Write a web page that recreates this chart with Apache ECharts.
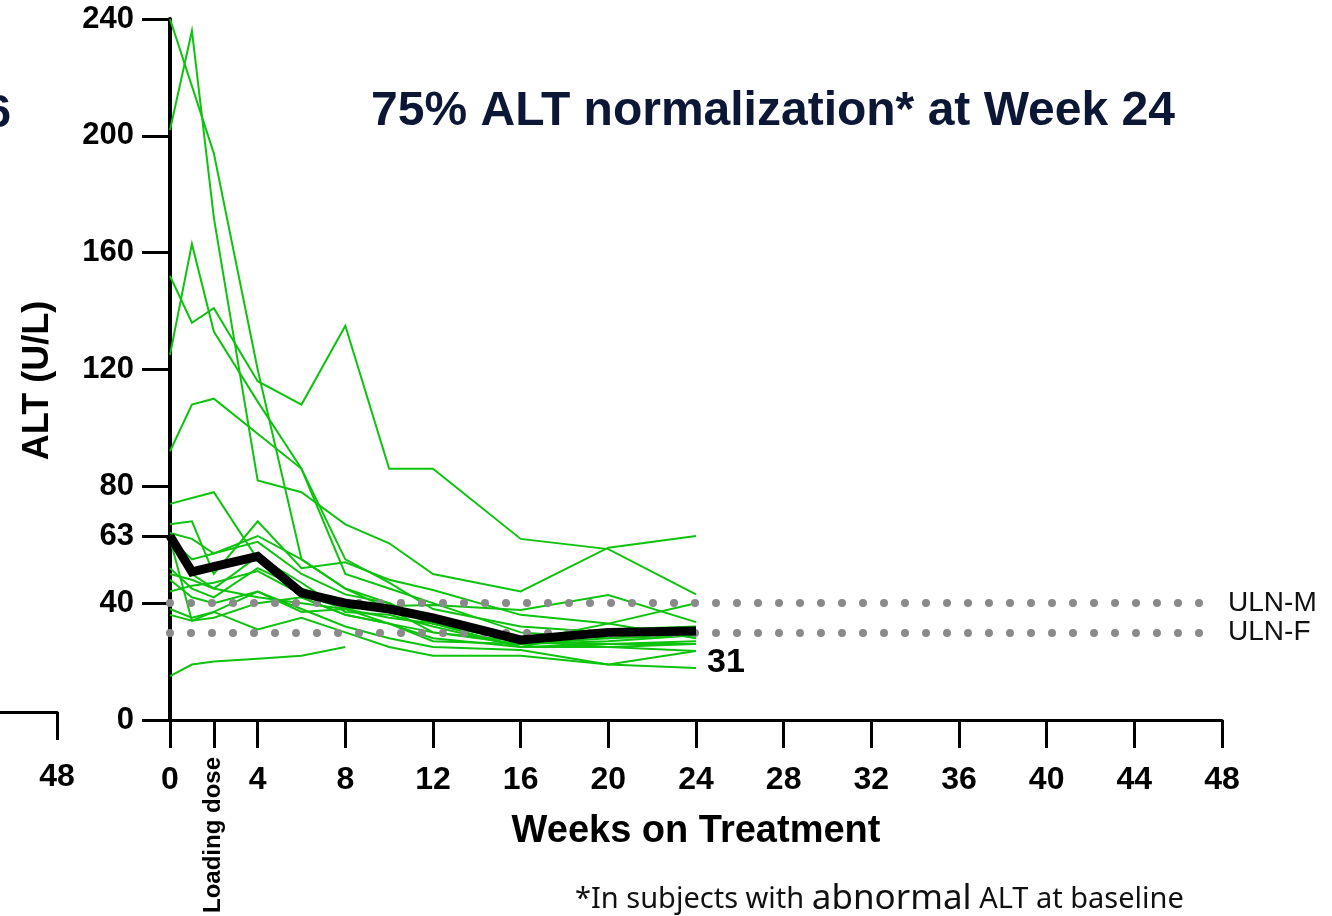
<!DOCTYPE html>
<html><head><meta charset="utf-8">
<script src="https://cdn.jsdelivr.net/npm/echarts@6/dist/echarts.min.js"></script>
<style>html,body{margin:0;padding:0;background:#fff}#c{width:1332px;height:916px}</style>
</head><body><div id="c"></div>
<script>
// ---------- data ----------
const weeks = [0, 1, 2, 4, 6, 8, 10, 12, 16, 20, 24];
const xTickValues = [0, 2, 4, 8, 12, 16, 20, 24, 28, 32, 36, 40, 44, 48];
const xLabelValues = [0, 4, 8, 12, 16, 20, 24, 28, 32, 36, 40, 44, 48];
const loadingDoseWeek = [2];
const loadingDoseLabel = 'Loading dose';
const yTickValues = [0, 40, 63, 80, 120, 160, 200, 240];
const meanALT = [63, 50.7, 52.5, 56, 43.5, 40, 38, 35, 27.4, 30, 30.5];
const subj01 = [240, 217, 194, 120, 55, 45, 40, 33, 27, 26, 26];
const subj02 = [202, 236, 172, 82, 78, 67, 60.5, 50, 44, 59, 63];
const subj03 = [152, 136, 141, 116, 108, 135, 86, 86, 62, 58.5, 43];
const subj04 = [125, 163, 133, 109, 86, 50, 45, 40, 30, 28, 29];
const subj05 = [92, 108, 110, 98, 86, 55, 47, 38, 32, 30, 31];
const subj06 = [74, 76, 78, 55, 42, 36, 33, 30, 27, 25, 23.6];
const subj07 = [67, 68, 50, 68, 52, 54, 48, 44.5, 36, 33, 28];
const subj08 = [64, 62, 57, 61, 50, 43, 40, 33, 27, 33, 40];
const subj09 = [62, 55, 57, 63, 55, 45, 38, 33, 25, 26, 27];
const subj10 = [52, 45, 42, 52, 45, 40, 38, 30, 26, 27, 29];
const subj11 = [50, 48, 45, 56, 47, 37, 36, 32, 25, 31, 32];
const subj12 = [44, 46, 47, 51, 43, 38, 33, 28, 25, 25, 26];
const subj13 = [48, 42, 40, 44, 37, 38, 39, 39.4, 37.7, 42.8, 33.5];
const subj14 = [38, 35, 37, 31, 35, 30, 25, 22, 22, 19, 23.6];
const subj15 = [36, 34, 37, 44, 38, 32, 28, 25, 24, 19, 17.8];
const subj16 = [63, 50, 45, 42, 40, 38, 35, 33, 28, 30, 30.5];
const subj17 = [62, 34, 35, 40, 42, 36, 33, 27, 26, 28, 31];
const subj18 = [15, 19, 20, 21, 22, 25, null, null, null, null, null];
const subjects = [subj01, subj02, subj03, subj04, subj05, subj06, subj07, subj08, subj09,
                  subj10, subj11, subj12, subj13, subj14, subj15, subj16, subj17, subj18];
const ulnValues = [40, 30];
const ulnLabels = ['ULN-M', 'ULN-F'];
const titleText = '75% ALT normalization* at Week 24';
const yName = 'ALT (U/L)';
const xName = 'Weeks on Treatment';
const leftPanelTitleTail = '6';
const leftPanelTick = [48];

// ---------- chart ----------
const GREEN = '#0dc30d';
const NAVY = '#0c1736';
const FONT = 'Liberation Sans';
const chart = echarts.init(document.getElementById('c'), null, {renderer: 'canvas'});

const pairs = arr => weeks.map((w, i) => [w, arr[i]]);

const series = subjects.map(s => ({
  type: 'line', xAxisIndex: 0, yAxisIndex: 0, data: pairs(s),
  symbol: 'none', silent: true, z: 3,
  lineStyle: {color: GREEN, width: 2, join: 'miter'}
}));

series.unshift({
  type: 'line', xAxisIndex: 0, yAxisIndex: 0, data: [], symbol: 'none', silent: true, z: 2,
  markLine: {
    silent: true, symbol: 'none', animation: false,
    lineStyle: {color: '#8a8a8a', width: 8, type: [0, 21], cap: 'round'},
    label: {show: true, position: 'end', distance: 17, color: '#111', fontFamily: FONT, fontSize: 28},
    data: ulnValues.map((v, i) => [
      {coord: [0, v], label: {formatter: ulnLabels[i]}},
      {coord: [47.5, v]}
    ])
  }
});

series.push({
  type: 'line', xAxisIndex: 0, yAxisIndex: 0, data: pairs(meanALT),
  symbol: 'none', silent: true, z: 5,
  lineStyle: {color: '#000', width: 9, join: 'miter'},
  endLabel: {show: true, formatter: p => String(Math.round(p.value[1])),
    color: '#000', fontFamily: FONT, fontWeight: 'bold', fontSize: 34, offset: [3, 32]}
});

series.push({type: 'line', xAxisIndex: 2, yAxisIndex: 1, data: [], silent: true});

chart.setOption({
  animation: false,
  backgroundColor: '#fff',
  title: [
    {text: titleText, left: 768, top: 83, textAlign: 'center',
     textStyle: {color: NAVY, fontFamily: FONT, fontWeight: 'bold', fontSize: 48}},
    {text: leftPanelTitleTail, left: -20, top: 86,
     textStyle: {color: NAVY, fontFamily: FONT, fontWeight: 'bold', fontSize: 47}},
    {text: '{s|*In subjects with }{b|abnormal}{s| ALT at baseline}', left: 570, top: 877,
     textStyle: {fontWeight: 'normal', rich: {
       s: {fontFamily: 'Noto Sans', fontWeight: 'normal', fontSize: 29, color: '#111'},
       b: {fontFamily: 'Noto Sans', fontWeight: 'normal', fontSize: 35, color: '#111'}}}}
  ],
  grid: [
    {left: 170, top: 19, right: 110, bottom: 196},
    {left: 0, width: 57, top: 19, bottom: 204}
  ],
  xAxis: [
    {gridIndex: 0, type: 'value', min: 0, max: 48,
     name: xName, nameLocation: 'middle', nameGap: 93,
     nameTextStyle: {color: '#000', fontFamily: FONT, fontWeight: 'bold', fontSize: 38},
     axisLine: {show: true, onZero: false, lineStyle: {color: '#000', width: 3}},
     axisTick: {show: true, length: 28, customValues: xTickValues, lineStyle: {color: '#000', width: 3}},
     axisLabel: {customValues: xLabelValues, margin: 44, color: '#000', fontFamily: FONT,
                 fontWeight: 'bold', fontSize: 32},
     splitLine: {show: false}},
    {gridIndex: 0, type: 'value', min: 0, max: 48, position: 'bottom',
     axisLine: {show: false}, axisTick: {show: false}, splitLine: {show: false},
     axisLabel: {customValues: loadingDoseWeek, rotate: 90, margin: 37, formatter: () => loadingDoseLabel,
                 color: '#000', fontFamily: FONT, fontWeight: 'bold', fontSize: 24}},
    {gridIndex: 1, type: 'value', min: 45.4, max: 48,
     axisLine: {show: true, onZero: false, lineStyle: {color: '#000', width: 3}},
     axisTick: {show: true, length: 28, customValues: leftPanelTick, lineStyle: {color: '#000', width: 3}},
     axisLabel: {customValues: leftPanelTick, margin: 49, color: '#000', fontFamily: FONT,
                 fontWeight: 'bold', fontSize: 32},
     splitLine: {show: false}}
  ],
  yAxis: [
    {gridIndex: 0, type: 'value', min: 0, max: 240,
     name: yName, nameLocation: 'middle', nameGap: 114,
     nameTextStyle: {color: '#000', fontFamily: FONT, fontWeight: 'bold', fontSize: 36, padding: [0, 22, 0, 0]},
     axisLine: {show: true, lineStyle: {color: '#000', width: 4}},
     axisTick: {show: true, length: 28, customValues: yTickValues, lineStyle: {color: '#000', width: 3}},
     axisLabel: {customValues: yTickValues, margin: 36, color: '#000', fontFamily: FONT,
                 fontWeight: 'bold', fontSize: 31},
     splitLine: {show: false}},
    {gridIndex: 1, type: 'value', min: 0, max: 240, show: false}
  ],
  series: series
});
</script></body></html>
